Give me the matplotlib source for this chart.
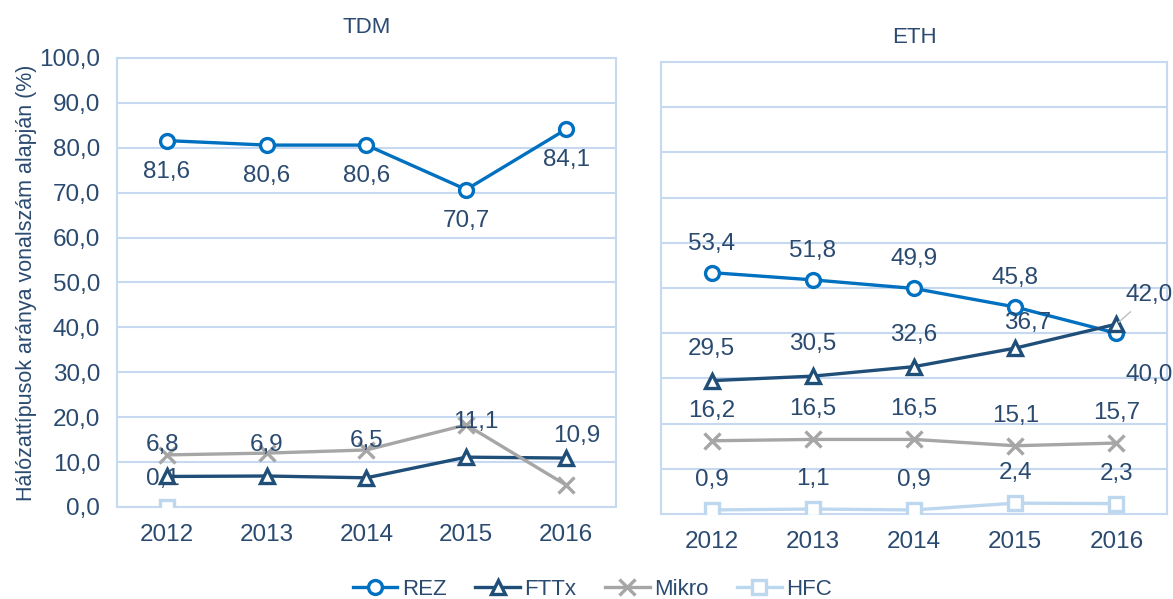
import numpy as np
import matplotlib.pyplot as plt

plt.rcParams["font.family"] = ["Liberation Sans", "DejaVu Sans"]

years = ["2012", "2013", "2014", "2015", "2016"]
series = ["REZ", "FTTx", "Mikro", "HFC"]

# TDM panel
tdm_rez = [81.6, 80.6, 80.6, 70.7, 84.1]
tdm_fttx = [6.8, 6.9, 6.5, 11.1, 10.9]
tdm_mikro = [11.6, 12.0, 12.7, 18.3, 4.9]
tdm_hfc = [0.1, np.nan, np.nan, np.nan, np.nan]

# ETH panel
eth_rez = [53.4, 51.8, 49.9, 45.8, 40.0]
eth_fttx = [29.5, 30.5, 32.6, 36.7, 42.0]
eth_mikro = [16.2, 16.5, 16.5, 15.1, 15.7]
eth_hfc = [0.9, 1.1, 0.9, 2.4, 2.3]

yticks = [0, 10, 20, 30, 40, 50, 60, 70, 80, 90, 100]

# styles
colors = {"REZ": "#0070C0", "FTTx": "#1F4E79", "Mikro": "#A6A6A6", "HFC": "#BDD7EE"}
markers = {"REZ": "o", "FTTx": "^", "Mikro": "x", "HFC": "s"}
txt = "#2A4A70"
grid = "#C6D9F0"
fs = 17.5

fig = plt.figure(figsize=(11.73, 5.99), dpi=100)
ax1 = fig.add_axes([0.0997, 0.1536, 0.4254, 0.7496])
ax2 = fig.add_axes([0.5635, 0.1419, 0.4314, 0.7546])

x = np.arange(len(years))


def draw(ax, data, labelled, offsets, leader=()):
    handles = []
    for name in series:
        vals = data[name]
        h, = ax.plot(x, vals, color=colors[name], lw=2.4, marker=markers[name],
                     markersize=10 if name != "Mikro" else 11,
                     markerfacecolor="white" if name != "Mikro" else colors[name],
                     markeredgecolor=colors[name], markeredgewidth=2.4,
                     label=name, zorder=3)
        handles.append(h)
        if name not in labelled:
            continue
        for i, v in enumerate(vals):
            if np.isnan(v):
                continue
            dx, dy = offsets.get((name, i), labelled[name])
            lbl = f"{v:.1f}".replace(".", ",")
            arrow = None
            if (name, i) in leader:
                arrow = dict(arrowstyle="-", color="#BFBFBF", lw=1.0,
                             shrinkA=3, shrinkB=2)
            ax.annotate(lbl, (i, v), xytext=(dx, dy), textcoords="offset pixels",
                        ha="center", va="center", fontsize=fs, color=txt,
                        annotation_clip=False, zorder=4, arrowprops=arrow)
    ax.set_xlim(-0.5, len(years) - 0.5)
    ax.set_ylim(0, 100)
    ax.set_xticks(x)
    ax.set_xticklabels(years)
    ax.set_yticks(yticks)
    ax.grid(axis="y", color=grid, lw=1.5)
    ax.set_axisbelow(True)
    for sp in ax.spines.values():
        sp.set_color(grid)
        sp.set_linewidth(1.5)
    ax.tick_params(length=0, colors=txt, labelsize=fs, pad=12)
    return handles


handles = draw(ax1,
               {"REZ": tdm_rez, "FTTx": tdm_fttx, "Mikro": tdm_mikro, "HFC": tdm_hfc},
               {"REZ": (0, -31), "FTTx": (0, 31), "HFC": (0, 28)},
               {("FTTx", 2): (0, 37), ("FTTx", 3): (10, 35), ("FTTx", 4): (11, 22),
                ("FTTx", 0): (-4, 31), ("HFC", 0): (-4, 28)})
ax1.set_yticklabels([f"{t:.1f}".replace(".", ",") for t in yticks])
ax1.set_ylabel("Hálózattípusok aránya vonalszám alapján (%)", fontsize=15.5,
               color=txt, labelpad=2)
ax1.set_title("TDM", fontsize=16, color=txt, pad=18)

draw(ax2,
     {"REZ": eth_rez, "FTTx": eth_fttx, "Mikro": eth_mikro, "HFC": eth_hfc},
     {"REZ": (0, 29), "FTTx": (0, 32), "Mikro": (0, 30), "HFC": (0, 30)},
     {("REZ", 4): (33, -42), ("FTTx", 4): (33, 29), ("FTTx", 3): (12, 25)},
     leader=[("FTTx", 4)])
ax2.set_yticklabels([])
ax2.set_title("ETH", fontsize=16, color=txt, pad=13.5)

fig.legend(handles=handles, loc="lower center", bbox_to_anchor=(0.505, -0.035),
           ncol=4, frameon=False, fontsize=16, labelcolor=txt,
           handlelength=2.0, handletextpad=0.2, columnspacing=1.3)

fig.savefig("out.png", dpi=100)
